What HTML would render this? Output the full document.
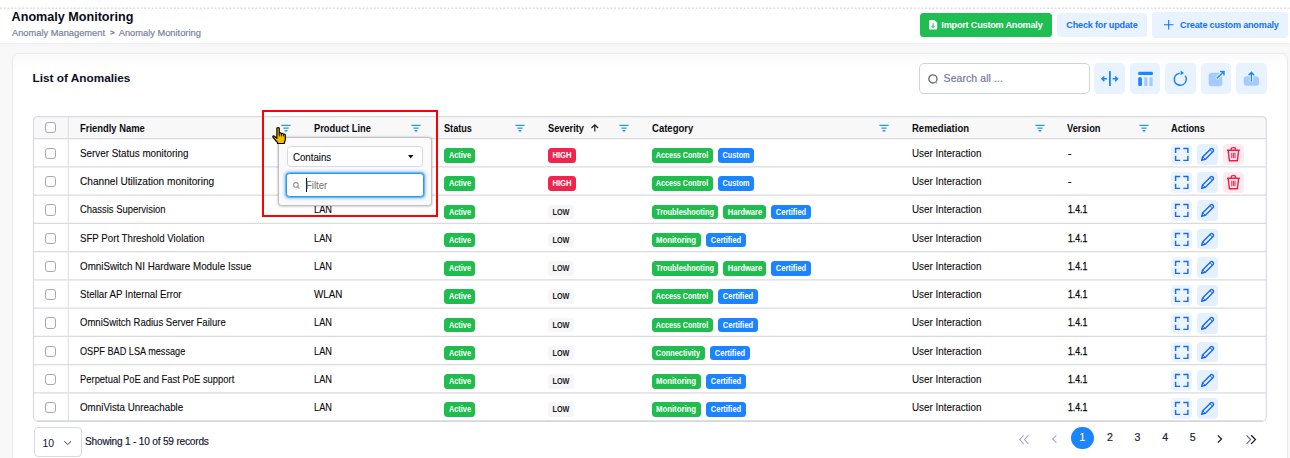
<!DOCTYPE html>
<html><head><meta charset="utf-8"><title>Anomaly Monitoring</title>
<style>
*{box-sizing:border-box;margin:0;padding:0}
html,body{width:1290px;height:458px;overflow:hidden;background:#f8f8f9;font-family:"Liberation Sans",sans-serif;color:#111;}
body{position:relative}
.abs{position:absolute}
svg{display:block;overflow:visible}
#top{position:absolute;left:0;top:0;width:1290px;height:43px;background:#fff;box-shadow:0 1px 3px rgba(20,20,40,.05)}
#dots{position:absolute;left:0;top:6.5px;width:1290px;height:3px}
#title{position:absolute;left:11.6px;top:8.6px;font-size:12.6px;line-height:16px;font-weight:700;color:#0a0c14;white-space:nowrap}
#crumb{position:absolute;left:12px;top:27px;font-size:9.3px;line-height:12px;color:#78819f;white-space:nowrap;-webkit-text-stroke:.2px #78819f}
#crumb b{position:absolute;left:98px;top:0;font-weight:700;color:#6b7390;font-size:8px}
#crumb i{font-style:normal;position:absolute;left:106.7px;top:0}
.btn{position:absolute;border-radius:3.5px;font-size:9.1px;font-weight:700;white-space:nowrap;letter-spacing:-0.19px}
.btn span{position:absolute;top:0;line-height:12px}
#card{position:absolute;left:11.5px;top:52.8px;width:1276.2px;height:420px;background:linear-gradient(#fafafb 0,#fdfdfd 8px,#fff 16px);border:1px solid #e9eaee;border-radius:6px;}
#lt{position:absolute;left:32.5px;top:69.5px;font-size:11.8px;line-height:16px;font-weight:700;color:#0b0e26;white-space:nowrap}
#search{position:absolute;left:919px;top:63px;width:171px;height:31px;border:1px solid #cdd3e0;border-radius:5px;background:#fff}
#search span{position:absolute;left:23.6px;top:8.4px;font-size:10.4px;line-height:13px;color:#737b99;white-space:nowrap;letter-spacing:.12px;-webkit-text-stroke:.2px #737b99}
.ib{position:absolute;top:63px;width:30.6px;height:30.6px;border-radius:4.5px;background:#e9f3ff}
.ib svg{position:absolute;left:0;top:0;width:30.6px;height:30.6px}
.t{position:absolute;transform-origin:left center;font-size:10.4px;white-space:nowrap;color:#0a0a0c;line-height:13px;-webkit-text-stroke:.1px #0a0a0c}
.v{letter-spacing:-0.6px}
.h{position:absolute;font-size:10.4px;font-weight:700;white-space:nowrap;color:#0c0c0f;line-height:13px;transform-origin:left center}
.cb{position:absolute;width:11.3px;height:11.3px;border:1.1px solid #a9a9ad;border-radius:3px;background:#fff}
.tag{position:absolute;height:14.6px;border-radius:3.5px;color:#fff;font-size:8.5px;font-weight:700;line-height:14.5px;white-space:nowrap}
.tag span{position:absolute;left:50%;top:0}
.g{background:#1fbd4e}.b{background:#1b84ff}.rd{background:#f0254f}.lw{background:#f6f6f8;color:#1a1a22}
.f{position:absolute;width:10px;height:8px}
.ab{position:absolute;width:20.8px;height:20.8px;border-radius:4px;background:#e9f3ff}
.ab svg{position:absolute;left:0;top:0;width:20.8px;height:20.8px}
#ps{position:absolute;left:33.6px;top:427.2px;width:48.5px;height:29.6px;border:1px solid #d6dae6;border-radius:4px;background:#fff}
#ps span{position:absolute;left:8px;top:8.5px;font-size:10.4px;line-height:13px;color:#14182f}
#show{position:absolute;left:85px;top:435.4px;font-size:10.1px;line-height:13px;color:#10142e;white-space:nowrap;letter-spacing:-0.19px;-webkit-text-stroke:.15px #10142e}
.pg{position:absolute;top:431px;font-size:10.6px;line-height:13px;color:#1a1f36;width:20px;text-align:center;-webkit-text-stroke:.2px #1a1f36}
#pop{position:absolute;left:278px;top:137px;width:154.2px;height:69px;background:#fafafa;border:1px solid #c0c0c3;border-radius:3.5px;box-shadow:0 0 2.500px rgba(0,0,0,.24),0 1px 3px rgba(0,0,0,.08)}
#sel{position:absolute;left:286.5px;top:146px;width:136.6px;height:21.4px;border:1px solid #d9dadd;border-radius:3.5px;background:#fff}
#sel span{position:absolute;left:5.6px;top:3.9px;font-size:10.4px;line-height:13px;color:#0c0c0f;transform-origin:left center;transform:scaleX(0.9314);-webkit-text-stroke:.1px #0c0c0f}
#inp{position:absolute;left:286px;top:172.8px;width:137.6px;height:24.2px;border:1px solid #2b95f2;border-radius:3.5px;background:#fff;box-shadow:0 0 0 .8px rgba(43,149,242,.6),0 0 2.500px 1.200px rgba(43,149,242,.4)}
#inp span{position:absolute;left:19.3px;top:5.2px;font-size:10.4px;line-height:13px;color:#707074;transform-origin:left center;transform:scaleX(0.9223)}
#red{position:absolute;left:262px;top:110px;width:176px;height:107px;border:2px solid #fe0000}
</style></head><body>
<div id="top"></div><svg id="dots" viewBox="0 0 1290 3"><path d="M0 1.250H1290" stroke="#dcdee6" stroke-width="1.500" stroke-dasharray="1.900 1.800" fill="none"/></svg>
<div id="title">Anomaly Monitoring</div>
<div id="crumb">Anomaly Management<b>&gt;</b><i>Anomaly Monitoring</i></div>
<div class="btn" style="left:919.5px;top:13px;width:132.4px;height:23.8px;background:#1ebe52;color:#fff">
<svg class="abs" style="left:9.4px;top:7.4px;width:8.2px;height:9.6px" viewBox="0 0 8.2 9.6"><path d="M1.2 0h4.2L8.2 2.8v5.6a1.2 1.2 0 0 1-1.2 1.2H1.2A1.2 1.2 0 0 1 0 8.400V1.2A1.2 1.2 0 0 1 1.2 0z" fill="#fff"/><path d="M4.1 3.2v4.4M2.6 6l1.5 1.6L5.6 6" stroke="#1ebe52" stroke-width="1" fill="none"/></svg>
<span style="left:21.8px;top:5.9px">Import Custom Anomaly</span></div>
<div class="btn" style="left:1057.1px;top:13px;width:89.6px;height:23.8px;background:#e9f3ff;color:#1670ee"><span style="left:9.2px;top:5.9px">Check for update</span></div>
<div class="btn" style="left:1152px;top:12px;width:136.2px;height:26px;background:#e9f3ff;color:#1670ee">
<svg class="abs" style="left:11.5px;top:8.2px;width:9.4px;height:9.6px" viewBox="0 0 9.4 9.6"><path d="M4.7 0v9.6M0 4.8h9.4" stroke="#1670ee" stroke-width="1.1" fill="none"/></svg>
<span style="left:28.1px;top:7px">Create custom anomaly</span></div>
<div id="card"></div>
<div id="lt">List of Anomalies</div>
<div id="search"><svg class="abs" style="left:8.4px;top:10px;width:11px;height:11px" viewBox="0 0 11 11"><circle cx="4.9" cy="4.9" r="4.1" stroke="#5d6685" stroke-width="1.3" fill="none"/><path d="M8.2 8.6l.9.8" stroke="#5d6685" stroke-width="1" fill="none"/></svg><span>Search all ...</span></div>
<div class="ib" style="left:1094.4px"><svg viewBox="0 0 30.6 30.6"><path d="M15.900 8.100v15" stroke="#1b84ff" stroke-width="1.800" fill="none"/><path d="M12.900 15.800H8M10.300 13.500L8 15.800l2.300 2.300M18.600 15.800h4.900M21.200 13.500l2.300 2.300-2.300 2.300" stroke="#1b84ff" stroke-width="1.500" fill="none"/></svg></div>
<div class="ib" style="left:1129.8px"><svg viewBox="0 0 30.6 30.6"><rect x="8.2" y="8.8" width="14.7" height="3.3" rx="1.2" fill="#1b84ff"/><rect x="8.2" y="14.2" width="3.7" height="8.8" rx="1.2" fill="#1b84ff"/><rect x="14.2" y="14.2" width="3.2" height="8.8" fill="#a3cbff"/><rect x="19.4" y="14.2" width="3.2" height="8.8" fill="#a3cbff"/></svg></div>
<div class="ib" style="left:1165.2px"><svg viewBox="0 0 30.6 30.6"><path d="M18.9 11.3A6.1 6.1 0 1 1 12.9 10.7" stroke="#1b84ff" stroke-width="1.5" fill="none" transform="rotate(18 15.5 16)"/><path d="M15.6 7.6l3.4 2.3-3.4 2.4z" fill="#1b84ff"/></svg></div>
<div class="ib" style="left:1200.6px"><svg viewBox="0 0 30.6 30.6"><rect x="7.7" y="9.8" width="13.6" height="13.4" rx="2.6" fill="#a3cbff"/><path d="M15.6 15.6l7-6.8" stroke="#fff" stroke-width="3.4" fill="none"/><path d="M19 7.6h5v5" fill="#fff" stroke="#fff" stroke-width="2"/><path d="M15.8 15.4l6.6-6.4M19 8.4h4v4" stroke="#1b84ff" stroke-width="1.5" fill="none"/></svg></div>
<div class="ib" style="left:1236px"><svg viewBox="0 0 30.6 30.6"><rect x="7.7" y="13.2" width="15.3" height="9.6" rx="3" fill="#a3cbff"/><path d="M15.4 18.8V9.4M12.3 12.2l3.1-3 3.1 3" stroke="#fff" stroke-width="3.4" fill="none"/><path d="M15.4 18.6V9.6M12.6 12.2l2.8-2.8 2.8 2.8" stroke="#1b84ff" stroke-width="1.5" fill="none"/></svg></div>

<svg class="abs" style="left:0;top:0;width:1290px;height:458px" viewBox="0 0 1290 458"><rect x="33.5" y="116.55" width="1232.8" height="304.5" rx="4" fill="#fff"/><path d="M33.5 138.6V120.55a4 4 0 0 1 4 -4H1262.3a4 4 0 0 1 4 4V138.6z" fill="#f8f8f9"/><path d="M33.5 138.6H1266.3M33.5 166.85H1266.3M33.5 195.1H1266.3M33.5 223.35H1266.3M33.5 251.6H1266.3M33.5 279.85H1266.3M33.5 308.1H1266.3M33.5 336.35H1266.3M33.5 364.6H1266.3M33.5 392.85H1266.3" stroke="#dadbdf" stroke-width="1.15" fill="none"/><path d="M68.300 116.55V421.05" stroke="#dfe0e4" stroke-width="1.1" fill="none"/><rect x="33.5" y="116.55" width="1232.8" height="304.5" rx="4" fill="none" stroke="#d8d9de" stroke-width="1.15"/><path d="M37.5 421.05H1262.3" stroke="#d2d3d8" stroke-width="1.2" fill="none"/></svg>
<div class="cb" style="left:44.7px;top:122.1px"></div>
<div class="h" style="left:80.4px;top:121.9px;transform:scaleX(0.9049)">Friendly Name</div>
<div class="h" style="left:314.4px;top:121.9px;transform:scaleX(0.8974)">Product Line</div>
<div class="h" style="left:443.8px;top:121.9px;transform:scaleX(0.8783)">Status</div>
<div class="h" style="left:547.9px;top:121.9px;transform:scaleX(0.8903)">Severity</div>
<div class="h" style="left:651.6px;top:121.9px;transform:scaleX(0.9168)">Category</div>
<div class="h" style="left:912.2px;top:121.9px;transform:scaleX(0.9141)">Remediation</div>
<div class="h" style="left:1067.2px;top:121.9px;transform:scaleX(0.8922)">Version</div>
<div class="h" style="left:1171.4px;top:121.9px;transform:scaleX(0.8895)">Actions</div>
<svg class="f" style="left:281.1px;top:124.2px" viewBox="0 0 10 8"><path d="M.4 1.300h9.200M2.400 4.100h5.200M3.600 6.700h2.800" stroke="#2196f3" stroke-width="1.35" fill="none"/></svg>
<svg class="f" style="left:411.3px;top:124.2px" viewBox="0 0 10 8"><path d="M.4 1.300h9.200M2.400 4.100h5.200M3.600 6.700h2.800" stroke="#2196f3" stroke-width="1.35" fill="none"/></svg>
<svg class="f" style="left:514.8px;top:124.2px" viewBox="0 0 10 8"><path d="M.4 1.300h9.200M2.400 4.100h5.200M3.600 6.700h2.800" stroke="#2196f3" stroke-width="1.35" fill="none"/></svg>
<svg class="f" style="left:618.5px;top:124.2px" viewBox="0 0 10 8"><path d="M.4 1.300h9.200M2.400 4.100h5.200M3.600 6.700h2.800" stroke="#2196f3" stroke-width="1.35" fill="none"/></svg>
<svg class="f" style="left:878.7px;top:124.2px" viewBox="0 0 10 8"><path d="M.4 1.300h9.200M2.400 4.100h5.200M3.600 6.700h2.800" stroke="#2196f3" stroke-width="1.35" fill="none"/></svg>
<svg class="f" style="left:1034.7px;top:124.2px" viewBox="0 0 10 8"><path d="M.4 1.300h9.200M2.400 4.100h5.200M3.600 6.700h2.800" stroke="#2196f3" stroke-width="1.35" fill="none"/></svg>
<svg class="f" style="left:1138.5px;top:124.2px" viewBox="0 0 10 8"><path d="M.4 1.300h9.200M2.400 4.100h5.200M3.600 6.700h2.800" stroke="#2196f3" stroke-width="1.35" fill="none"/></svg>
<svg class="abs" style="left:590.6px;top:124.4px;width:7.6px;height:7.6px" viewBox="0 0 7.600 7.600"><path d="M3.800 7.500V.9M.5 4l3.300-3.200L7.100 4" stroke="#1a1a1a" stroke-width="1.15" fill="none"/></svg>
<div class="cb" style="left:44.7px;top:147.82px"></div>
<div class="t" style="left:80.2px;top:146.81px;transform:scaleX(0.9479)">Server Status monitoring</div>
<div class="tag g" style="left:444.1px;top:148.12px;width:31.3px"><span style="transform:translateX(-50%) scaleX(0.862)">Active</span></div>
<div class="tag rd" style="left:547.9px;top:148.12px;width:28.6px"><span style="transform:translateX(-50%) scaleX(0.904)">HIGH</span></div>
<div class="tag g" style="left:651.8px;top:148.12px;width:61.3px"><span style="transform:translateX(-50%) scaleX(0.84)">Access Control</span></div>
<div class="tag b" style="left:718.0px;top:148.12px;width:35.8px"><span style="transform:translateX(-50%) scaleX(0.86)">Custom</span></div>
<div class="t" style="left:912.4px;top:146.81px;transform:scaleX(0.9462)">User Interaction</div>
<div class="t" style="left:1068px;top:146.81px;transform:scaleX(0.9802);-webkit-text-stroke:.32px #0a0a0c">-</div>
<div class="ab" style="left:1171.3px;top:143.94px;background:#ebf4ff"><svg viewBox="0 0 20.800 20.800"><path d="M4.600 9.100V4.500h4.600M12.300 4.500h4.600v4.600M16.900 11.800v4.600h-4.600M9.200 16.400H4.600v-4.600" stroke="#1a69f6" stroke-width="1.450" fill="none"/></svg></div>
<div class="ab" style="left:1197.1px;top:143.94px;background:#e5f0ff"><svg viewBox="0 0 20.800 20.800"><path d="M4.700 16.300l.9-3.400 8-8a1.500 1.500 0 0 1 2.100 0l.4.400a1.500 1.500 0 0 1 0 2.100l-8 8z" stroke="#1465f6" stroke-width="1.4" fill="none" stroke-linejoin="round"/><path d="M5.700 12.900l2.400 2.400M12.900 5.600l2.400 2.400" stroke="#1465f6" stroke-width="1" fill="none"/></svg></div>
<div class="ab" style="left:1223px;top:143.94px;background:#ffebef"><svg viewBox="0 0 20.800 20.800"><path d="M4 6.300h12.800M8.400 6V4.300c0-.8 4-.8 4 0V6M5.200 6.600l1.200 10.100h8l1.200-10.100" stroke="#f41a45" stroke-width="1.4" fill="none" stroke-linejoin="round"/><path d="M8.800 8.800v5.400M10.400 8.800v5.400M12 8.800v5.400" stroke="#f41a45" stroke-width="1" fill="none"/></svg></div>
<div class="cb" style="left:44.7px;top:176.07px"></div>
<div class="t" style="left:80.2px;top:175.06px;transform:scaleX(0.9721)">Channel Utilization monitoring</div>
<div class="tag g" style="left:444.1px;top:176.38px;width:31.3px"><span style="transform:translateX(-50%) scaleX(0.862)">Active</span></div>
<div class="tag rd" style="left:547.9px;top:176.38px;width:28.6px"><span style="transform:translateX(-50%) scaleX(0.904)">HIGH</span></div>
<div class="tag g" style="left:651.8px;top:176.38px;width:61.3px"><span style="transform:translateX(-50%) scaleX(0.84)">Access Control</span></div>
<div class="tag b" style="left:718.0px;top:176.38px;width:35.8px"><span style="transform:translateX(-50%) scaleX(0.86)">Custom</span></div>
<div class="t" style="left:912.4px;top:175.06px;transform:scaleX(0.9462)">User Interaction</div>
<div class="t" style="left:1068px;top:175.06px;transform:scaleX(0.9802);-webkit-text-stroke:.32px #0a0a0c">-</div>
<div class="ab" style="left:1171.3px;top:172.19px;background:#ebf4ff"><svg viewBox="0 0 20.800 20.800"><path d="M4.600 9.100V4.500h4.600M12.300 4.500h4.600v4.600M16.900 11.800v4.600h-4.600M9.200 16.400H4.600v-4.600" stroke="#1a69f6" stroke-width="1.450" fill="none"/></svg></div>
<div class="ab" style="left:1197.1px;top:172.19px;background:#e5f0ff"><svg viewBox="0 0 20.800 20.800"><path d="M4.700 16.300l.9-3.400 8-8a1.500 1.500 0 0 1 2.100 0l.4.400a1.500 1.500 0 0 1 0 2.100l-8 8z" stroke="#1465f6" stroke-width="1.4" fill="none" stroke-linejoin="round"/><path d="M5.700 12.900l2.400 2.400M12.900 5.600l2.400 2.400" stroke="#1465f6" stroke-width="1" fill="none"/></svg></div>
<div class="ab" style="left:1223px;top:172.19px;background:#ffebef"><svg viewBox="0 0 20.800 20.800"><path d="M4 6.300h12.800M8.400 6V4.300c0-.8 4-.8 4 0V6M5.200 6.600l1.200 10.100h8l1.200-10.100" stroke="#f41a45" stroke-width="1.4" fill="none" stroke-linejoin="round"/><path d="M8.800 8.800v5.400M10.400 8.800v5.400M12 8.800v5.400" stroke="#f41a45" stroke-width="1" fill="none"/></svg></div>
<div class="cb" style="left:44.7px;top:204.32px"></div>
<div class="t" style="left:80.2px;top:203.31px;transform:scaleX(0.9082)">Chassis Supervision</div>
<div class="t" style="left:314.4px;top:203.31px;transform:scaleX(0.8903)">LAN</div>
<div class="tag g" style="left:444.1px;top:204.62px;width:31.3px"><span style="transform:translateX(-50%) scaleX(0.862)">Active</span></div>
<div class="tag lw" style="left:547.9px;top:204.62px;width:26px"><span style="transform:translateX(-50%) scaleX(0.857)">LOW</span></div>
<div class="tag g" style="left:651.8px;top:204.62px;width:66.6px"><span style="transform:translateX(-50%) scaleX(0.868)">Troubleshooting</span></div>
<div class="tag g" style="left:723.3px;top:204.62px;width:42.8px"><span style="transform:translateX(-50%) scaleX(0.888)">Hardware</span></div>
<div class="tag b" style="left:771.0px;top:204.62px;width:39.9px"><span style="transform:translateX(-50%) scaleX(0.882)">Certified</span></div>
<div class="t" style="left:912.4px;top:203.31px;transform:scaleX(0.9462)">User Interaction</div>
<div class="t" style="left:1068px;top:203.31px;transform:scaleX(0.8389);-webkit-text-stroke:.32px #0a0a0c">1.4.1</div>
<div class="ab" style="left:1171.3px;top:200.44px;background:#ebf4ff"><svg viewBox="0 0 20.800 20.800"><path d="M4.600 9.100V4.500h4.600M12.300 4.500h4.600v4.600M16.900 11.800v4.600h-4.600M9.200 16.400H4.600v-4.600" stroke="#1a69f6" stroke-width="1.450" fill="none"/></svg></div>
<div class="ab" style="left:1197.1px;top:200.44px;background:#e5f0ff"><svg viewBox="0 0 20.800 20.800"><path d="M4.700 16.300l.9-3.400 8-8a1.500 1.500 0 0 1 2.100 0l.4.400a1.500 1.500 0 0 1 0 2.100l-8 8z" stroke="#1465f6" stroke-width="1.4" fill="none" stroke-linejoin="round"/><path d="M5.700 12.900l2.400 2.400M12.900 5.600l2.400 2.400" stroke="#1465f6" stroke-width="1" fill="none"/></svg></div>
<div class="cb" style="left:44.7px;top:232.57px"></div>
<div class="t" style="left:80.2px;top:231.56px;transform:scaleX(0.9315)">SFP Port Threshold Violation</div>
<div class="t" style="left:314.4px;top:231.56px;transform:scaleX(0.8903)">LAN</div>
<div class="tag g" style="left:444.1px;top:232.88px;width:31.3px"><span style="transform:translateX(-50%) scaleX(0.862)">Active</span></div>
<div class="tag lw" style="left:547.9px;top:232.88px;width:26px"><span style="transform:translateX(-50%) scaleX(0.857)">LOW</span></div>
<div class="tag g" style="left:651.8px;top:232.88px;width:49.3px"><span style="transform:translateX(-50%) scaleX(0.916)">Monitoring</span></div>
<div class="tag b" style="left:706.0px;top:232.88px;width:39.9px"><span style="transform:translateX(-50%) scaleX(0.882)">Certified</span></div>
<div class="t" style="left:912.4px;top:231.56px;transform:scaleX(0.9462)">User Interaction</div>
<div class="t" style="left:1068px;top:231.56px;transform:scaleX(0.8389);-webkit-text-stroke:.32px #0a0a0c">1.4.1</div>
<div class="ab" style="left:1171.3px;top:228.69px;background:#ebf4ff"><svg viewBox="0 0 20.800 20.800"><path d="M4.600 9.100V4.500h4.600M12.300 4.500h4.600v4.600M16.900 11.800v4.600h-4.600M9.200 16.400H4.600v-4.600" stroke="#1a69f6" stroke-width="1.450" fill="none"/></svg></div>
<div class="ab" style="left:1197.1px;top:228.69px;background:#e5f0ff"><svg viewBox="0 0 20.800 20.800"><path d="M4.700 16.300l.9-3.400 8-8a1.500 1.500 0 0 1 2.100 0l.4.400a1.500 1.500 0 0 1 0 2.100l-8 8z" stroke="#1465f6" stroke-width="1.4" fill="none" stroke-linejoin="round"/><path d="M5.700 12.900l2.400 2.400M12.900 5.600l2.400 2.400" stroke="#1465f6" stroke-width="1" fill="none"/></svg></div>
<div class="cb" style="left:44.7px;top:260.83px"></div>
<div class="t" style="left:80.2px;top:259.81px;transform:scaleX(0.9452)">OmniSwitch NI Hardware Module Issue</div>
<div class="t" style="left:314.4px;top:259.81px;transform:scaleX(0.8903)">LAN</div>
<div class="tag g" style="left:444.1px;top:261.12px;width:31.3px"><span style="transform:translateX(-50%) scaleX(0.862)">Active</span></div>
<div class="tag lw" style="left:547.9px;top:261.12px;width:26px"><span style="transform:translateX(-50%) scaleX(0.857)">LOW</span></div>
<div class="tag g" style="left:651.8px;top:261.12px;width:66.6px"><span style="transform:translateX(-50%) scaleX(0.868)">Troubleshooting</span></div>
<div class="tag g" style="left:723.3px;top:261.12px;width:42.8px"><span style="transform:translateX(-50%) scaleX(0.888)">Hardware</span></div>
<div class="tag b" style="left:771.0px;top:261.12px;width:39.9px"><span style="transform:translateX(-50%) scaleX(0.882)">Certified</span></div>
<div class="t" style="left:912.4px;top:259.81px;transform:scaleX(0.9462)">User Interaction</div>
<div class="t" style="left:1068px;top:259.81px;transform:scaleX(0.8389);-webkit-text-stroke:.32px #0a0a0c">1.4.1</div>
<div class="ab" style="left:1171.3px;top:256.95px;background:#ebf4ff"><svg viewBox="0 0 20.800 20.800"><path d="M4.600 9.100V4.500h4.600M12.300 4.500h4.600v4.600M16.900 11.800v4.600h-4.600M9.200 16.400H4.600v-4.600" stroke="#1a69f6" stroke-width="1.450" fill="none"/></svg></div>
<div class="ab" style="left:1197.1px;top:256.95px;background:#e5f0ff"><svg viewBox="0 0 20.800 20.800"><path d="M4.700 16.300l.9-3.400 8-8a1.500 1.500 0 0 1 2.100 0l.4.400a1.500 1.500 0 0 1 0 2.100l-8 8z" stroke="#1465f6" stroke-width="1.4" fill="none" stroke-linejoin="round"/><path d="M5.700 12.900l2.400 2.400M12.900 5.600l2.400 2.400" stroke="#1465f6" stroke-width="1" fill="none"/></svg></div>
<div class="cb" style="left:44.7px;top:289.08px"></div>
<div class="t" style="left:80.2px;top:288.06px;transform:scaleX(0.9324)">Stellar AP Internal Error</div>
<div class="t" style="left:314.4px;top:288.06px;transform:scaleX(0.9457)">WLAN</div>
<div class="tag g" style="left:444.1px;top:289.38px;width:31.3px"><span style="transform:translateX(-50%) scaleX(0.862)">Active</span></div>
<div class="tag lw" style="left:547.9px;top:289.38px;width:26px"><span style="transform:translateX(-50%) scaleX(0.857)">LOW</span></div>
<div class="tag g" style="left:651.8px;top:289.38px;width:61.3px"><span style="transform:translateX(-50%) scaleX(0.84)">Access Control</span></div>
<div class="tag b" style="left:718.0px;top:289.38px;width:39.9px"><span style="transform:translateX(-50%) scaleX(0.882)">Certified</span></div>
<div class="t" style="left:912.4px;top:288.06px;transform:scaleX(0.9462)">User Interaction</div>
<div class="t" style="left:1068px;top:288.06px;transform:scaleX(0.8389);-webkit-text-stroke:.32px #0a0a0c">1.4.1</div>
<div class="ab" style="left:1171.3px;top:285.2px;background:#ebf4ff"><svg viewBox="0 0 20.800 20.800"><path d="M4.600 9.100V4.500h4.600M12.300 4.500h4.600v4.600M16.900 11.800v4.600h-4.600M9.200 16.400H4.600v-4.600" stroke="#1a69f6" stroke-width="1.450" fill="none"/></svg></div>
<div class="ab" style="left:1197.1px;top:285.2px;background:#e5f0ff"><svg viewBox="0 0 20.800 20.800"><path d="M4.700 16.300l.9-3.400 8-8a1.500 1.500 0 0 1 2.100 0l.4.400a1.500 1.500 0 0 1 0 2.100l-8 8z" stroke="#1465f6" stroke-width="1.4" fill="none" stroke-linejoin="round"/><path d="M5.700 12.900l2.400 2.400M12.900 5.600l2.400 2.400" stroke="#1465f6" stroke-width="1" fill="none"/></svg></div>
<div class="cb" style="left:44.7px;top:317.33px"></div>
<div class="t" style="left:80.2px;top:316.31px;transform:scaleX(0.9174)">OmniSwitch Radius Server Failure</div>
<div class="t" style="left:314.4px;top:316.31px;transform:scaleX(0.8903)">LAN</div>
<div class="tag g" style="left:444.1px;top:317.62px;width:31.3px"><span style="transform:translateX(-50%) scaleX(0.862)">Active</span></div>
<div class="tag lw" style="left:547.9px;top:317.62px;width:26px"><span style="transform:translateX(-50%) scaleX(0.857)">LOW</span></div>
<div class="tag g" style="left:651.8px;top:317.62px;width:61.3px"><span style="transform:translateX(-50%) scaleX(0.84)">Access Control</span></div>
<div class="tag b" style="left:718.0px;top:317.62px;width:39.9px"><span style="transform:translateX(-50%) scaleX(0.882)">Certified</span></div>
<div class="t" style="left:912.4px;top:316.31px;transform:scaleX(0.9462)">User Interaction</div>
<div class="t" style="left:1068px;top:316.31px;transform:scaleX(0.8389);-webkit-text-stroke:.32px #0a0a0c">1.4.1</div>
<div class="ab" style="left:1171.3px;top:313.45px;background:#ebf4ff"><svg viewBox="0 0 20.800 20.800"><path d="M4.600 9.100V4.500h4.600M12.300 4.500h4.600v4.600M16.900 11.800v4.600h-4.600M9.200 16.400H4.600v-4.600" stroke="#1a69f6" stroke-width="1.450" fill="none"/></svg></div>
<div class="ab" style="left:1197.1px;top:313.45px;background:#e5f0ff"><svg viewBox="0 0 20.800 20.800"><path d="M4.700 16.300l.9-3.400 8-8a1.500 1.500 0 0 1 2.100 0l.4.400a1.500 1.500 0 0 1 0 2.100l-8 8z" stroke="#1465f6" stroke-width="1.4" fill="none" stroke-linejoin="round"/><path d="M5.700 12.900l2.400 2.400M12.900 5.600l2.400 2.400" stroke="#1465f6" stroke-width="1" fill="none"/></svg></div>
<div class="cb" style="left:44.7px;top:345.58px"></div>
<div class="t" style="left:80.2px;top:344.56px;transform:scaleX(0.8808)">OSPF BAD LSA message</div>
<div class="t" style="left:314.4px;top:344.56px;transform:scaleX(0.8903)">LAN</div>
<div class="tag g" style="left:444.1px;top:345.88px;width:31.3px"><span style="transform:translateX(-50%) scaleX(0.862)">Active</span></div>
<div class="tag lw" style="left:547.9px;top:345.88px;width:26px"><span style="transform:translateX(-50%) scaleX(0.857)">LOW</span></div>
<div class="tag g" style="left:651.8px;top:345.88px;width:53.2px"><span style="transform:translateX(-50%) scaleX(0.868)">Connectivity</span></div>
<div class="tag b" style="left:709.9px;top:345.88px;width:39.9px"><span style="transform:translateX(-50%) scaleX(0.882)">Certified</span></div>
<div class="t" style="left:912.4px;top:344.56px;transform:scaleX(0.9462)">User Interaction</div>
<div class="t" style="left:1068px;top:344.56px;transform:scaleX(0.8389);-webkit-text-stroke:.32px #0a0a0c">1.4.1</div>
<div class="ab" style="left:1171.3px;top:341.7px;background:#ebf4ff"><svg viewBox="0 0 20.800 20.800"><path d="M4.600 9.100V4.500h4.600M12.300 4.500h4.600v4.600M16.900 11.800v4.600h-4.600M9.200 16.400H4.600v-4.600" stroke="#1a69f6" stroke-width="1.450" fill="none"/></svg></div>
<div class="ab" style="left:1197.1px;top:341.7px;background:#e5f0ff"><svg viewBox="0 0 20.800 20.800"><path d="M4.700 16.300l.9-3.400 8-8a1.500 1.500 0 0 1 2.100 0l.4.400a1.500 1.500 0 0 1 0 2.100l-8 8z" stroke="#1465f6" stroke-width="1.4" fill="none" stroke-linejoin="round"/><path d="M5.700 12.900l2.400 2.400M12.900 5.600l2.400 2.400" stroke="#1465f6" stroke-width="1" fill="none"/></svg></div>
<div class="cb" style="left:44.7px;top:373.83px"></div>
<div class="t" style="left:80.2px;top:372.81px;transform:scaleX(0.9055)">Perpetual PoE and Fast PoE support</div>
<div class="t" style="left:314.4px;top:372.81px;transform:scaleX(0.8903)">LAN</div>
<div class="tag g" style="left:444.1px;top:374.12px;width:31.3px"><span style="transform:translateX(-50%) scaleX(0.862)">Active</span></div>
<div class="tag lw" style="left:547.9px;top:374.12px;width:26px"><span style="transform:translateX(-50%) scaleX(0.857)">LOW</span></div>
<div class="tag g" style="left:651.8px;top:374.12px;width:49.3px"><span style="transform:translateX(-50%) scaleX(0.916)">Monitoring</span></div>
<div class="tag b" style="left:706.0px;top:374.12px;width:39.9px"><span style="transform:translateX(-50%) scaleX(0.882)">Certified</span></div>
<div class="t" style="left:912.4px;top:372.81px;transform:scaleX(0.9462)">User Interaction</div>
<div class="t" style="left:1068px;top:372.81px;transform:scaleX(0.8389);-webkit-text-stroke:.32px #0a0a0c">1.4.1</div>
<div class="ab" style="left:1171.3px;top:369.95px;background:#ebf4ff"><svg viewBox="0 0 20.800 20.800"><path d="M4.600 9.100V4.500h4.600M12.300 4.500h4.600v4.600M16.900 11.800v4.600h-4.600M9.200 16.400H4.600v-4.600" stroke="#1a69f6" stroke-width="1.450" fill="none"/></svg></div>
<div class="ab" style="left:1197.1px;top:369.95px;background:#e5f0ff"><svg viewBox="0 0 20.800 20.800"><path d="M4.700 16.300l.9-3.400 8-8a1.500 1.500 0 0 1 2.100 0l.4.400a1.500 1.500 0 0 1 0 2.100l-8 8z" stroke="#1465f6" stroke-width="1.4" fill="none" stroke-linejoin="round"/><path d="M5.700 12.900l2.400 2.400M12.900 5.600l2.400 2.400" stroke="#1465f6" stroke-width="1" fill="none"/></svg></div>
<div class="cb" style="left:44.7px;top:402.08px"></div>
<div class="t" style="left:80.2px;top:401.06px;transform:scaleX(0.9421)">OmniVista Unreachable</div>
<div class="t" style="left:314.4px;top:401.06px;transform:scaleX(0.8903)">LAN</div>
<div class="tag g" style="left:444.1px;top:402.38px;width:31.3px"><span style="transform:translateX(-50%) scaleX(0.862)">Active</span></div>
<div class="tag lw" style="left:547.9px;top:402.38px;width:26px"><span style="transform:translateX(-50%) scaleX(0.857)">LOW</span></div>
<div class="tag g" style="left:651.8px;top:402.38px;width:49.3px"><span style="transform:translateX(-50%) scaleX(0.916)">Monitoring</span></div>
<div class="tag b" style="left:706.0px;top:402.38px;width:39.9px"><span style="transform:translateX(-50%) scaleX(0.882)">Certified</span></div>
<div class="t" style="left:912.4px;top:401.06px;transform:scaleX(0.9462)">User Interaction</div>
<div class="t" style="left:1068px;top:401.06px;transform:scaleX(0.8389);-webkit-text-stroke:.32px #0a0a0c">1.4.1</div>
<div class="ab" style="left:1171.3px;top:398.2px;background:#ebf4ff"><svg viewBox="0 0 20.800 20.800"><path d="M4.600 9.100V4.500h4.600M12.300 4.500h4.600v4.600M16.900 11.800v4.600h-4.600M9.200 16.400H4.600v-4.600" stroke="#1a69f6" stroke-width="1.450" fill="none"/></svg></div>
<div class="ab" style="left:1197.1px;top:398.2px;background:#e5f0ff"><svg viewBox="0 0 20.800 20.800"><path d="M4.700 16.300l.9-3.400 8-8a1.500 1.500 0 0 1 2.100 0l.4.400a1.500 1.500 0 0 1 0 2.100l-8 8z" stroke="#1465f6" stroke-width="1.4" fill="none" stroke-linejoin="round"/><path d="M5.700 12.900l2.400 2.400M12.900 5.600l2.400 2.400" stroke="#1465f6" stroke-width="1" fill="none"/></svg></div>
<div id="ps"><span>10</span><svg class="abs" style="left:29.4px;top:12.8px;width:7.4px;height:4px" viewBox="0 0 7.4 4"><path d="M.3.3l3.4 3.2L7.100.3" stroke="#3a3f55" stroke-width="1" fill="none"/></svg></div>
<div id="show">Showing 1 - 10 of 59 records</div>
<svg class="abs" style="left:1018.8px;top:434.6px;width:10px;height:9.2px" viewBox="0 0 10 9.200"><path d="M4.6.3L.6 4.600l4 4.300M9.400.3l-4 4.300 4 4.300" stroke="#a6aabb" stroke-width="1.1" fill="none"/></svg>
<svg class="abs" style="left:1052.4px;top:434.8px;width:5px;height:8px" viewBox="0 0 5 8"><path d="M4.400.3L.7 4l3.700 3.700" stroke="#a6aabb" stroke-width="1.1" fill="none"/></svg>
<div class="abs" style="left:1070.8px;top:426.7px;width:22.8px;height:22.8px;border-radius:50%;background:#1b84ff"></div>
<div class="pg" style="left:1072.3px;color:#fff;font-weight:700">1</div>
<div class="pg" style="left:1099.9px">2</div>
<div class="pg" style="left:1127.5px">3</div>
<div class="pg" style="left:1155.1px">4</div>
<div class="pg" style="left:1182.6px">5</div>
<svg class="abs" style="left:1217.2px;top:434.8px;width:5.4px;height:8px" viewBox="0 0 5.400 8"><path d="M.8.4L4.500 4 .8 7.600" stroke="#14182f" stroke-width="1.250" fill="none"/></svg>
<svg class="abs" style="left:1246.2px;top:434.6px;width:10.2px;height:9.2px" viewBox="0 0 10.200 9.200"><path d="M.6.3l4 4.300-4 4.300" stroke="#5e6278" stroke-width="1.1" fill="none"/><path d="M5.200.3l4.200 4.300-4.200 4.300" stroke="#14182f" stroke-width="1.300" fill="none"/></svg>
<div id="pop"></div>
<div id="sel"><span>Contains</span><svg class="abs" style="left:120.4px;top:7.6px;width:5.4px;height:3.4px" viewBox="0 0 5.400 3.400"><path d="M0 0h5.400L2.700 3.400z" fill="#111"/></svg></div>
<div id="inp"><svg class="abs" style="left:6.4px;top:8px;width:7px;height:7.4px" viewBox="0 0 7 7.400"><circle cx="2.900" cy="2.900" r="2.300" stroke="#97979b" stroke-width="1.100" fill="none"/><path d="M4.600 4.700l1.900 2" stroke="#97979b" stroke-width="1.200" fill="none"/></svg><div class="abs" style="left:19px;top:4.2px;width:1.2px;height:13.6px;background:#111"></div><span>Filter</span></div>
<div id="red"></div>
<svg class="abs" style="left:272.4px;top:126.500px;width:14.900px;height:17.800px" viewBox="0 0 14 18" preserveAspectRatio="none"><path d="M4.600 1.300c0-1 2.200-1 2.200 0v5c.3-.6 2-.5 2 .3v.3c.3-.6 1.900-.5 1.900.3v.4c.3-.6 1.800-.5 1.800.4v4.600c0 1.500-.5 2.400-.9 3.200v.9H5.200v-.9c-.6-.8-1.300-1.500-2.200-2.800L.9 10.300c-.6-1 .6-1.800 1.400-.9l2.300 2.100z" fill="#f8b900" stroke="#0a0800" stroke-width="1.150" stroke-linejoin="round"/><path d="M6.800 6.300v3.200M8.800 6.900v2.600M10.700 7.500v2" stroke="#0a0800" stroke-width=".9" fill="none"/></svg>

</body></html>
